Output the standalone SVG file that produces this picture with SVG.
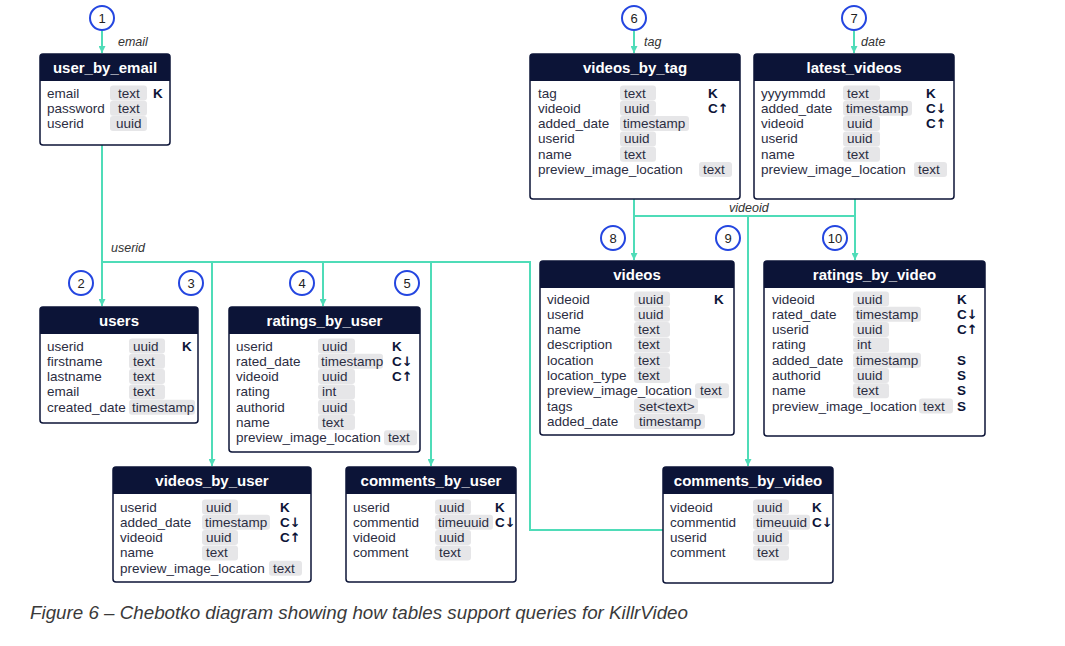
<svg xmlns="http://www.w3.org/2000/svg" width="1065" height="646" viewBox="0 0 1065 646">
<defs>
<style>
.box{fill:#fff;stroke:#0c1437;stroke-width:1.5}
.hd{fill:#0c1437}
.ht{font-family:"Liberation Sans",Arial,sans-serif;font-weight:bold;font-size:15px;fill:#fff;text-anchor:middle}
.f{font-family:"Liberation Sans",Arial,sans-serif;font-size:13.5px;fill:#2b2d42}
.p{fill:#e6e6e8}
.k{font-family:"Liberation Sans",Arial,sans-serif;font-size:13.5px;font-weight:bold;fill:#0c1437}
.a{font-family:"DejaVu Sans",sans-serif;font-weight:bold;font-size:13px}
.c{fill:none;stroke:#4fdcb8;stroke-width:2}
.lbl{font-family:"Liberation Sans",Arial,sans-serif;font-size:12.5px;font-style:italic;fill:#333}
.cir{fill:#fff;stroke:#2446e0;stroke-width:2}
.num{font-family:"Liberation Sans",Arial,sans-serif;font-size:13px;fill:#222;text-anchor:middle}
.cap{font-family:"Liberation Sans",Arial,sans-serif;font-size:18px;font-style:italic;fill:#3a3a3a}
</style>
<marker id="ar" markerUnits="userSpaceOnUse" markerWidth="8" markerHeight="7" refX="7" refY="3.5" orient="auto">
<path d="M0,0 L7,3.5 L0,7 z" fill="#4fdcb8"/>
</marker>
</defs>

<g id="connectors">
<line class="c" x1="102" y1="31" x2="102" y2="53" marker-end="url(#ar)"/>
<line class="c" x1="634" y1="31" x2="634" y2="53" marker-end="url(#ar)"/>
<line class="c" x1="854" y1="31" x2="854" y2="53" marker-end="url(#ar)"/>
<line class="c" x1="102" y1="145" x2="102" y2="306" marker-end="url(#ar)"/>
<polyline class="c" points="102,262 530,262 530,530 663,530"/>
<line class="c" x1="212" y1="262" x2="212" y2="466" marker-end="url(#ar)"/>
<line class="c" x1="323" y1="262" x2="323" y2="306" marker-end="url(#ar)"/>
<line class="c" x1="431" y1="262" x2="431" y2="466" marker-end="url(#ar)"/>
<line class="c" x1="634" y1="199" x2="634" y2="260" marker-end="url(#ar)"/>
<line class="c" x1="855" y1="199" x2="855" y2="260" marker-end="url(#ar)"/>
<line class="c" x1="634" y1="216" x2="855" y2="216"/>
<line class="c" x1="748" y1="216" x2="748" y2="466" marker-end="url(#ar)"/>
<text class="lbl" x="118" y="46">email</text>
<text class="lbl" x="111" y="252">userid</text>
<text class="lbl" x="644" y="46">tag</text>
<text class="lbl" x="861" y="46">date</text>
<text class="lbl" x="729" y="212">videoid</text>
</g>

<g id="circles">
<circle class="cir" cx="102" cy="18" r="12"/><text class="num" x="102" y="22.5">1</text>
<circle class="cir" cx="81" cy="283" r="12"/><text class="num" x="81" y="287.5">2</text>
<circle class="cir" cx="191" cy="283" r="12"/><text class="num" x="191" y="287.5">3</text>
<circle class="cir" cx="302" cy="283" r="12"/><text class="num" x="302" y="287.5">4</text>
<circle class="cir" cx="407" cy="283" r="12"/><text class="num" x="407" y="287.5">5</text>
<circle class="cir" cx="634" cy="18" r="12"/><text class="num" x="634" y="22.5">6</text>
<circle class="cir" cx="854" cy="18" r="12"/><text class="num" x="854" y="22.5">7</text>
<circle class="cir" cx="613" cy="238" r="12"/><text class="num" x="613" y="242.5">8</text>
<circle class="cir" cx="728" cy="238" r="12"/><text class="num" x="728" y="242.5">9</text>
<circle class="cir" cx="835" cy="238" r="12"/><text class="num" x="835" y="242.5">10</text>
</g>

<g id="user_by_email">
<rect class="box" x="40" y="54" width="130" height="91" rx="3"/>
<path class="hd" d="M40,81 V57 Q40,54 43,54 H167 Q170,54 170,57 V81 z"/>
<text class="ht" x="105" y="73">user_by_email</text>
<rect class="p" x="110" y="85.5" width="37" height="15" rx="3"/>
<rect class="p" x="110" y="100.8" width="37" height="15" rx="3"/>
<rect class="p" x="110" y="116.1" width="37" height="15" rx="3"/>
<text class="f" x="47" y="97.5">email</text><text class="f" x="118" y="97.5">text</text><text class="k" x="153" y="97.5">K</text>
<text class="f" x="47" y="112.8">password</text><text class="f" x="118" y="112.8">text</text>
<text class="f" x="47" y="128.1">userid</text><text class="f" x="116" y="128.1">uuid</text>
</g>

<g id="users">
<rect class="box" x="40" y="307" width="158" height="116" rx="3"/>
<path class="hd" d="M40,334 V310 Q40,307 43,307 H195 Q198,307 198,310 V334 z"/>
<text class="ht" x="119" y="326">users</text>
<rect class="p" x="129" y="338.5" width="36" height="15" rx="3"/>
<rect class="p" x="129" y="353.8" width="36" height="15" rx="3"/>
<rect class="p" x="129" y="369.1" width="36" height="15" rx="3"/>
<rect class="p" x="129" y="384.4" width="36" height="15" rx="3"/>
<rect class="p" x="129" y="399.7" width="66" height="15" rx="3"/>
<text class="f" x="47" y="350.5">userid</text><text class="f" x="133" y="350.5">uuid</text><text class="k" x="182" y="350.5">K</text>
<text class="f" x="47" y="365.8">firstname</text><text class="f" x="133" y="365.8">text</text>
<text class="f" x="47" y="381.1">lastname</text><text class="f" x="133" y="381.1">text</text>
<text class="f" x="47" y="396.4">email</text><text class="f" x="133" y="396.4">text</text>
<text class="f" x="47" y="411.7">created_date</text><text class="f" x="132" y="411.7">timestamp</text>
</g>

<g id="ratings_by_user">
<rect class="box" x="229" y="307" width="191" height="145" rx="3"/>
<path class="hd" d="M229,334 V310 Q229,307 232,307 H417 Q420,307 420,310 V334 z"/>
<text class="ht" x="324.5" y="326">ratings_by_user</text>
<rect class="p" x="318" y="338.5" width="37" height="15" rx="3"/>
<rect class="p" x="318" y="353.8" width="65" height="15" rx="3"/>
<rect class="p" x="318" y="369.1" width="37" height="15" rx="3"/>
<rect class="p" x="318" y="384.4" width="37" height="15" rx="3"/>
<rect class="p" x="318" y="399.7" width="37" height="15" rx="3"/>
<rect class="p" x="318" y="415" width="37" height="15" rx="3"/>
<rect class="p" x="384" y="430.3" width="33" height="15" rx="3"/>
<text class="f" x="236" y="350.5">userid</text><text class="f" x="322" y="350.5">uuid</text><text class="k" x="392" y="350.5">K</text>
<text class="f" x="236" y="365.8">rated_date</text><text class="f" x="321" y="365.8">timestamp</text><text class="k" x="392" y="365.8">C<tspan class="a">↓</tspan></text>
<text class="f" x="236" y="381.1">videoid</text><text class="f" x="322" y="381.1">uuid</text><text class="k" x="392" y="381.1">C<tspan class="a">↑</tspan></text>
<text class="f" x="236" y="396.4">rating</text><text class="f" x="322" y="396.4">int</text>
<text class="f" x="236" y="411.7">authorid</text><text class="f" x="322" y="411.7">uuid</text>
<text class="f" x="236" y="427">name</text><text class="f" x="322" y="427">text</text>
<text class="f" x="236" y="442.3">preview_image_location</text><text class="f" x="388" y="442.3">text</text>
</g>

<g id="videos_by_user">
<rect class="box" x="113" y="467" width="198" height="115" rx="3"/>
<path class="hd" d="M113,494 V470 Q113,467 116,467 H308 Q311,467 311,470 V494 z"/>
<text class="ht" x="212" y="486">videos_by_user</text>
<rect class="p" x="202" y="499.5" width="36" height="15" rx="3"/>
<rect class="p" x="202" y="514.8" width="68" height="15" rx="3"/>
<rect class="p" x="202" y="530.1" width="36" height="15" rx="3"/>
<rect class="p" x="202" y="545.4" width="36" height="15" rx="3"/>
<rect class="p" x="269" y="560.7" width="33" height="15" rx="3"/>
<text class="f" x="120" y="511.5">userid</text><text class="f" x="206" y="511.5">uuid</text><text class="k" x="280" y="511.5">K</text>
<text class="f" x="120" y="526.8">added_date</text><text class="f" x="205" y="526.8">timestamp</text><text class="k" x="280" y="526.8">C<tspan class="a">↓</tspan></text>
<text class="f" x="120" y="542.1">videoid</text><text class="f" x="206" y="542.1">uuid</text><text class="k" x="280" y="542.1">C<tspan class="a">↑</tspan></text>
<text class="f" x="120" y="557.4">name</text><text class="f" x="206" y="557.4">text</text>
<text class="f" x="120" y="572.7">preview_image_location</text><text class="f" x="273" y="572.7">text</text>
</g>

<g id="comments_by_user">
<rect class="box" x="346" y="467" width="170" height="115" rx="3"/>
<path class="hd" d="M346,494 V470 Q346,467 349,467 H513 Q516,467 516,470 V494 z"/>
<text class="ht" x="431" y="486">comments_by_user</text>
<rect class="p" x="435" y="499.5" width="36" height="15" rx="3"/>
<rect class="p" x="435" y="514.8" width="58" height="15" rx="3"/>
<rect class="p" x="435" y="530.1" width="36" height="15" rx="3"/>
<rect class="p" x="435" y="545.4" width="36" height="15" rx="3"/>
<text class="f" x="353" y="511.5">userid</text><text class="f" x="439" y="511.5">uuid</text><text class="k" x="495" y="511.5">K</text>
<text class="f" x="353" y="526.8">commentid</text><text class="f" x="438" y="526.8">timeuuid</text><text class="k" x="495" y="526.8">C<tspan class="a">↓</tspan></text>
<text class="f" x="353" y="542.1">videoid</text><text class="f" x="439" y="542.1">uuid</text>
<text class="f" x="353" y="557.4">comment</text><text class="f" x="439" y="557.4">text</text>
</g>

<g id="comments_by_video">
<rect class="box" x="663" y="467" width="170" height="116" rx="3"/>
<path class="hd" d="M663,494 V470 Q663,467 666,467 H830 Q833,467 833,470 V494 z"/>
<text class="ht" x="748" y="486">comments_by_video</text>
<rect class="p" x="753" y="499.5" width="36" height="15" rx="3"/>
<rect class="p" x="753" y="514.8" width="57" height="15" rx="3"/>
<rect class="p" x="753" y="530.1" width="36" height="15" rx="3"/>
<rect class="p" x="753" y="545.4" width="36" height="15" rx="3"/>
<text class="f" x="670" y="511.5">videoid</text><text class="f" x="757" y="511.5">uuid</text><text class="k" x="812" y="511.5">K</text>
<text class="f" x="670" y="526.8">commentid</text><text class="f" x="756" y="526.8">timeuuid</text><text class="k" x="812" y="526.8">C<tspan class="a">↓</tspan></text>
<text class="f" x="670" y="542.1">userid</text><text class="f" x="757" y="542.1">uuid</text>
<text class="f" x="670" y="557.4">comment</text><text class="f" x="757" y="557.4">text</text>
</g>

<g id="videos_by_tag">
<rect class="box" x="530" y="54" width="210" height="145" rx="3"/>
<path class="hd" d="M530,81 V57 Q530,54 533,54 H737 Q740,54 740,57 V81 z"/>
<text class="ht" x="635" y="73">videos_by_tag</text>
<rect class="p" x="620" y="85.5" width="36" height="15" rx="3"/>
<rect class="p" x="620" y="100.8" width="36" height="15" rx="3"/>
<rect class="p" x="620" y="116.1" width="69" height="15" rx="3"/>
<rect class="p" x="620" y="131.4" width="36" height="15" rx="3"/>
<rect class="p" x="620" y="146.7" width="36" height="15" rx="3"/>
<rect class="p" x="699" y="162" width="33" height="15" rx="3"/>
<text class="f" x="538" y="97.5">tag</text><text class="f" x="624" y="97.5">text</text><text class="k" x="708" y="97.5">K</text>
<text class="f" x="538" y="112.8">videoid</text><text class="f" x="624" y="112.8">uuid</text><text class="k" x="708" y="112.8">C<tspan class="a">↑</tspan></text>
<text class="f" x="538" y="128.1">added_date</text><text class="f" x="623" y="128.1">timestamp</text>
<text class="f" x="538" y="143.4">userid</text><text class="f" x="624" y="143.4">uuid</text>
<text class="f" x="538" y="158.7">name</text><text class="f" x="624" y="158.7">text</text>
<text class="f" x="538" y="174">preview_image_location</text><text class="f" x="703" y="174">text</text>
</g>

<g id="latest_videos">
<rect class="box" x="754" y="54" width="200" height="145" rx="3"/>
<path class="hd" d="M754,81 V57 Q754,54 757,54 H951 Q954,54 954,57 V81 z"/>
<text class="ht" x="854" y="73">latest_videos</text>
<rect class="p" x="843" y="85.5" width="37" height="15" rx="3"/>
<rect class="p" x="843" y="100.8" width="69" height="15" rx="3"/>
<rect class="p" x="843" y="116.1" width="37" height="15" rx="3"/>
<rect class="p" x="843" y="131.4" width="37" height="15" rx="3"/>
<rect class="p" x="843" y="146.7" width="37" height="15" rx="3"/>
<rect class="p" x="914" y="162" width="33" height="15" rx="3"/>
<text class="f" x="761" y="97.5">yyyymmdd</text><text class="f" x="847" y="97.5">text</text><text class="k" x="926" y="97.5">K</text>
<text class="f" x="761" y="112.8">added_date</text><text class="f" x="846" y="112.8">timestamp</text><text class="k" x="926" y="112.8">C<tspan class="a">↓</tspan></text>
<text class="f" x="761" y="128.1">videoid</text><text class="f" x="847" y="128.1">uuid</text><text class="k" x="926" y="128.1">C<tspan class="a">↑</tspan></text>
<text class="f" x="761" y="143.4">userid</text><text class="f" x="847" y="143.4">uuid</text>
<text class="f" x="761" y="158.7">name</text><text class="f" x="847" y="158.7">text</text>
<text class="f" x="761" y="174">preview_image_location</text><text class="f" x="918" y="174">text</text>
</g>

<g id="videos">
<rect class="box" x="540" y="261" width="194" height="174" rx="3"/>
<path class="hd" d="M540,288 V264 Q540,261 543,261 H731 Q734,261 734,264 V288 z"/>
<text class="ht" x="637" y="280">videos</text>
<rect class="p" x="634" y="291.5" width="36" height="15" rx="3"/>
<rect class="p" x="634" y="306.8" width="36" height="15" rx="3"/>
<rect class="p" x="634" y="322.1" width="36" height="15" rx="3"/>
<rect class="p" x="634" y="337.4" width="36" height="15" rx="3"/>
<rect class="p" x="634" y="352.7" width="36" height="15" rx="3"/>
<rect class="p" x="634" y="368" width="36" height="15" rx="3"/>
<rect class="p" x="695" y="383.3" width="34" height="15" rx="3"/>
<rect class="p" x="634" y="398.6" width="64" height="15" rx="3"/>
<rect class="p" x="634" y="413.9" width="71" height="15" rx="3"/>
<text class="f" x="547" y="303.5">videoid</text><text class="f" x="638" y="303.5">uuid</text><text class="k" x="714" y="303.5">K</text>
<text class="f" x="547" y="318.8">userid</text><text class="f" x="638" y="318.8">uuid</text>
<text class="f" x="547" y="334.1">name</text><text class="f" x="638" y="334.1">text</text>
<text class="f" x="547" y="349.4">description</text><text class="f" x="638" y="349.4">text</text>
<text class="f" x="547" y="364.7">location</text><text class="f" x="638" y="364.7">text</text>
<text class="f" x="547" y="380">location_type</text><text class="f" x="638" y="380">text</text>
<text class="f" x="547" y="395.3">preview_image_location</text><text class="f" x="700" y="395.3">text</text>
<text class="f" x="547" y="410.6">tags</text><text class="f" x="639" y="410.6">set&lt;text&gt;</text>
<text class="f" x="547" y="425.9">added_date</text><text class="f" x="639" y="425.9">timestamp</text>
</g>

<g id="ratings_by_video">
<rect class="box" x="764" y="261" width="221" height="175" rx="3"/>
<path class="hd" d="M764,288 V264 Q764,261 767,261 H982 Q985,261 985,264 V288 z"/>
<text class="ht" x="874.5" y="280">ratings_by_video</text>
<rect class="p" x="853" y="291.5" width="36" height="15" rx="3"/>
<rect class="p" x="853" y="306.8" width="68" height="15" rx="3"/>
<rect class="p" x="853" y="322.1" width="36" height="15" rx="3"/>
<rect class="p" x="853" y="337.4" width="36" height="15" rx="3"/>
<rect class="p" x="853" y="352.7" width="68" height="15" rx="3"/>
<rect class="p" x="853" y="368" width="36" height="15" rx="3"/>
<rect class="p" x="853" y="383.3" width="36" height="15" rx="3"/>
<rect class="p" x="919" y="398.6" width="34" height="15" rx="3"/>
<text class="f" x="772" y="303.5">videoid</text><text class="f" x="857" y="303.5">uuid</text><text class="k" x="957" y="303.5">K</text>
<text class="f" x="772" y="318.8">rated_date</text><text class="f" x="856" y="318.8">timestamp</text><text class="k" x="957" y="318.8">C<tspan class="a">↓</tspan></text>
<text class="f" x="772" y="334.1">userid</text><text class="f" x="857" y="334.1">uuid</text><text class="k" x="957" y="334.1">C<tspan class="a">↑</tspan></text>
<text class="f" x="772" y="349.4">rating</text><text class="f" x="857" y="349.4">int</text>
<text class="f" x="772" y="364.7">added_date</text><text class="f" x="856" y="364.7">timestamp</text><text class="k" x="957" y="364.7">S</text>
<text class="f" x="772" y="380">authorid</text><text class="f" x="857" y="380">uuid</text><text class="k" x="957" y="380">S</text>
<text class="f" x="772" y="395.3">name</text><text class="f" x="857" y="395.3">text</text><text class="k" x="957" y="395.3">S</text>
<text class="f" x="772" y="410.6">preview_image_location</text><text class="f" x="923" y="410.6">text</text><text class="k" x="957" y="410.6">S</text>
</g>

<text class="cap" x="30" y="619" textLength="658" lengthAdjust="spacingAndGlyphs">Figure 6 – Chebotko diagram showing how tables support queries for KillrVideo</text>
</svg>
